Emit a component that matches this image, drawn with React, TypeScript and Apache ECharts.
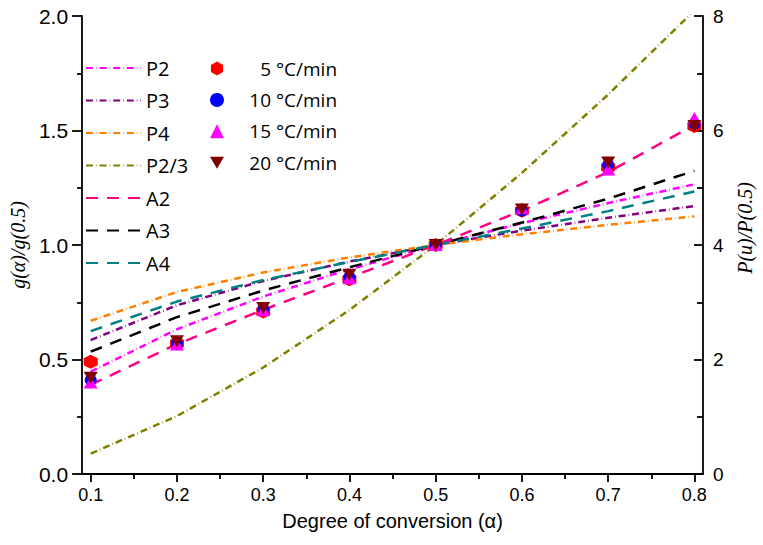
import React, { useEffect, useRef } from "react";
import * as echarts from "echarts";

// Degree of conversion
const alpha = [0.1, 0.2, 0.3, 0.4, 0.5, 0.6, 0.7, 0.8];

// Model curves g(α)/g(0.5)
const P2 = [0.447, 0.632, 0.775, 0.894, 1.0, 1.095, 1.183, 1.265];
const P3 = [0.585, 0.737, 0.843, 0.928, 1.0, 1.063, 1.119, 1.17];
const P4 = [0.669, 0.795, 0.88, 0.946, 1.0, 1.047, 1.088, 1.125];
const P23 = [0.089, 0.253, 0.465, 0.716, 1.0, 1.315, 1.657, 2.024];
const A2 = [0.39, 0.567, 0.717, 0.858, 1.0, 1.15, 1.318, 1.524];
const A3 = [0.534, 0.685, 0.801, 0.903, 1.0, 1.098, 1.202, 1.324];
const A4 = [0.624, 0.753, 0.847, 0.926, 1.0, 1.072, 1.148, 1.234];

// Experimental P(u)/P(0.5) (right axis)
const rate5 = [1.96, 2.28, 2.84, 3.4, 4.0, 4.6, 5.36, 6.08];
const rate10 = [1.64, 2.28, 2.88, 3.44, 4.0, 4.6, 5.4, 6.12];
const rate15 = [1.6, 2.26, 2.86, 3.42, 4.0, 4.64, 5.32, 6.22];
const rate20 = [1.68, 2.32, 2.9, 3.48, 4.0, 4.62, 5.44, 6.08];

const xMajor = [0.1, 0.2, 0.3, 0.4, 0.5, 0.6, 0.7, 0.8];
const xMinor = [0.15, 0.25, 0.35, 0.45, 0.55, 0.65, 0.75];

const modelNames = ["P2", "P3", "P4", "P2/3", "A2", "A3", "A4"];
const modelData = [P2, P3, P4, P23, A2, A3, A4];
const modelColors = ["#FF00FF", "#800080", "#FF8000", "#808000", "#FF0080", "#000000", "#008080"];
const dashDot = [7, 3, 0.6, 3];
const dashed = [12, 9];
const modelDash = [dashDot, dashDot, dashDot, dashDot, dashed, dashed, dashed];

const rateNames = ["5 °C/min", "10 °C/min", "15 °C/min", "20 °C/min"];
const rateData = [rate5, rate10, rate15, rate20];
const rateColors = ["#FF0000", "#0000FF", "#FF00FF", "#800000"];
const hexagon = "path://M0,-1L0.866,-0.5L0.866,0.5L0,1L-0.866,0.5L-0.866,-0.5Z";
const triDown = "path://M0,0L2,0L1,1.7Z";
const rateSymbols = [hexagon, "circle", "triangle", triDown];
const rateSizes: any[] = [14, 12, [14, 12], [14, 12]];

export default function App() {
  const ref = useRef<HTMLDivElement>(null);
  useEffect(() => {
    if (!ref.current) return;
    const chart = echarts.init(ref.current, null, { renderer: "svg" });
    const black = "#000";
    const sans = "Liberation Sans, Arial";
    const nameFont = {
      fontFamily: "Liberation Serif",
      fontStyle: "italic" as const,
      fontSize: 20,
      color: black,
    };
    const axisW = 1.8;
    const series: any[] = [];
    modelNames.forEach((n, k) => {
      series.push({
        name: n,
        type: "line",
        xAxisIndex: 0,
        yAxisIndex: 0,
        data: alpha.map((a, i) => [a, modelData[k][i]]),
        symbol: "none",
        clip: true,
        lineStyle: { color: modelColors[k], width: 2.5, type: modelDash[k] },
        itemStyle: { color: modelColors[k] },
        z: 2,
      });
    });
    rateNames.forEach((n, k) => {
      series.push({
        name: n,
        type: "scatter",
        xAxisIndex: 0,
        yAxisIndex: 1,
        data: alpha.map((a, i) => [a, rateData[k][i]]),
        symbol: rateSymbols[k],
        symbolSize: rateSizes[k],
        itemStyle: { color: rateColors[k], opacity: 1 },
        z: 3 + k,
      });
    });

    chart.setOption({
      animation: false,
      grid: { left: 82, right: 60, top: 16, bottom: 71, containLabel: false },
      legend: [
        {
          data: modelNames,
          orient: "vertical",
          left: 85,
          top: 58,
          padding: 0,
          itemWidth: 55,
          itemHeight: 20,
          itemGap: 12.5,
          itemStyle: { opacity: 0, borderWidth: 0 },
          textStyle: { fontFamily: "Open Sans", fontSize: 20, color: black, lineHeight: 20 },
          selectedMode: false,
        },
        {
          data: rateNames,
          orient: "vertical",
          left: 210,
          top: 59,
          padding: 0,
          itemWidth: 14,
          itemHeight: 14,
          itemGap: 12.4,
          selectedMode: false,
          formatter: (name: string) => {
            const parts = name.split(" ");
            return `{n|${parts[0]}}{u| ${parts.slice(1).join(" ")}}`;
          },
          textStyle: {
            fontFamily: "Open Sans",
            fontSize: 19,
            color: black,
            lineHeight: 14,
            rich: {
              n: { width: 42, align: "right", fontFamily: "Open Sans", fontSize: 19, color: black, lineHeight: 14 },
              u: { align: "right", fontFamily: "Open Sans", fontSize: 19, color: black, lineHeight: 14 },
            },
          },
        },
      ],
      xAxis: [
        {
          type: "value",
          min: 0.09,
          max: 0.81,
          position: "bottom",
          axisLine: { show: true, lineStyle: { color: black, width: axisW } },
          axisTick: { show: true, inside: false, length: 8, customValues: xMajor, lineStyle: { color: black, width: axisW } },
          axisLabel: {
            fontFamily: sans,
            fontSize: 18,
            color: black,
            margin: 12,
            customValues: xMajor,
            formatter: (v: number) => v.toFixed(1),
          },
          splitLine: { show: false },
          name: "Degree of conversion (α)",
          nameLocation: "middle",
          nameGap: 37,
          nameTextStyle: { fontFamily: sans, fontSize: 20, color: black },
        },
        {
          type: "value",
          min: 0.09,
          max: 0.81,
          position: "bottom",
          axisLine: { show: false },
          axisTick: { show: true, inside: false, length: 5, customValues: xMinor, lineStyle: { color: black, width: axisW } },
          axisLabel: { show: false },
          splitLine: { show: false },
        },
      ],
      yAxis: [
        {
          type: "value",
          min: 0,
          max: 2,
          interval: 0.5,
          position: "left",
          axisLine: { show: true, lineStyle: { color: black, width: axisW } },
          axisTick: { show: true, inside: false, length: 10, lineStyle: { color: black, width: axisW } },
          minorTick: { show: true, splitNumber: 2, length: 5, lineStyle: { color: black, width: axisW } },
          axisLabel: { fontFamily: sans, fontSize: 21, color: black, margin: 14, formatter: (v: number) => v.toFixed(1) },
          splitLine: { show: false },
          minorSplitLine: { show: false },
          name: "g(α)/g(0.5)",
          nameLocation: "middle",
          nameGap: 50,
          nameRotate: 90,
          nameTextStyle: nameFont,
        },
        {
          type: "value",
          min: 0,
          max: 8,
          interval: 2,
          position: "right",
          axisLine: { show: true, lineStyle: { color: black, width: axisW } },
          axisTick: { show: true, inside: true, length: 9, lineStyle: { color: black, width: axisW } },
          minorTick: { show: true, splitNumber: 2, length: 6, lineStyle: { color: black, width: axisW } },
          axisLabel: { fontFamily: sans, fontSize: 19, color: black, margin: 10 },
          splitLine: { show: false },
          minorSplitLine: { show: false },
          name: "P(u)/P(0.5)",
          nameLocation: "middle",
          nameGap: 32,
          nameRotate: 90,
          nameTextStyle: { ...nameFont, padding: [0, 0, 0, 34] },
        },
      ],
      series,
    });
    return () => chart.dispose();
  }, []);
  return (
    <div
      ref={ref}
      style={{ position: "absolute", left: 0, top: 0, width: 763, height: 545, background: "#fff" }}
    />
  );
}
